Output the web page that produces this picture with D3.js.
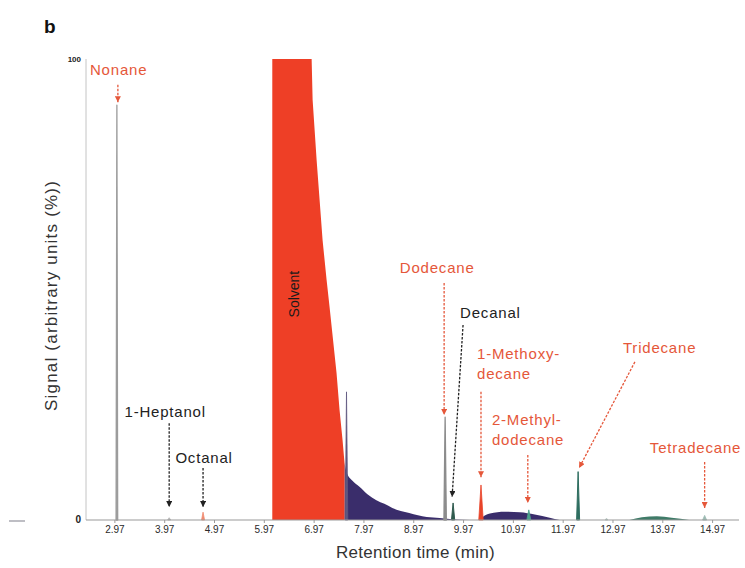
<!DOCTYPE html>
<html>
<head>
<meta charset="utf-8">
<style>
  body { margin: 0; background: #fff; }
  text { font-family: "Liberation Sans", Arial, sans-serif; }
</style>
</head>
<body>
<script src="https://cdnjs.cloudflare.com/ajax/libs/d3/7.8.5/d3.min.js"></script>
<script>

  // ---- data ----
  const xTicks = [2.97, 3.97, 4.97, 5.97, 6.97, 7.97, 8.97, 9.97, 10.97, 11.97, 12.97, 13.97, 14.97]
  const yTicks = [0, 100]

  const compounds = ['Nonane', '1-Heptanol', 'Octanal', 'Dodecane', 'Decanal',
                     '1-Methoxydecane', '2-Methyldodecane', 'Tridecane', 'Tetradecane']
  const peakTimes   = [3.01, 4.06, 4.74, 9.60, 9.76, 10.32, 11.28, 12.27, 14.81]
  const peakSignals = [90, 0.5, 1.7, 22.3, 3.7, 7.6, 2.2, 10.5, 1.0]

  // unnamed peaks
  const minorTimes   = [7.62, 12.84]
  const minorSignals = [27.8, 0.4]

  // solvent front (truncated at 100 %)
  const solventTimes   = [6.13, 6.13, 6.92, 6.94, 7.02, 7.08, 7.14, 7.22, 7.28, 7.36, 7.42, 7.48, 7.54, 7.58, 7.58]
  const solventSignals = [0, 100, 100, 91.1, 78.1, 69.4, 60.7, 52.1, 46.2, 38.0, 31.9, 23.9, 17.4, 12.4, 0]

  // solvent tail
  const tailTimes   = [7.58, 7.62, 7.74, 7.88, 8.04, 8.22, 8.38, 8.54, 8.88, 9.23, 9.49, 9.79, 10.09]
  const tailSignals = [12.4, 10.4, 8.5, 7.2, 5.6, 4.3, 3.5, 2.6, 1.5, 0.65, 0.43, 0.1, 0]

  // broad humps
  const humpATimes   = [10.30, 10.35, 10.50, 10.80, 11.10, 11.40, 11.70, 11.90]
  const humpASignals = [0, 0.6, 1.4, 1.8, 1.7, 1.2, 0.5, 0]
  const humpBTimes   = [13.30, 13.55, 13.85, 14.15, 14.50]
  const humpBSignals = [0, 0.6, 0.8, 0.5, 0]

  // ---- styles ----
  const colors = {red: '#ee3f26', purple: '#3a2d6b', label: '#e5573a', ink: '#222',
                  axis: '#9a9a9a', tick: '#2a2a2a'}

  const peakStyle = {
    'Nonane':           {fill: '#9c9c9c', hw: 0.8, sw: 1.3},
    '1-Heptanol':       {fill: '#b5b5b5', hw: 1.5, sw: 0.8},
    'Octanal':          {fill: '#f08a70', hw: 1.5, sw: 0.8},
    'Dodecane':         {fill: '#8c8c8c', hw: 1.2, sw: 1.3},
    'Decanal':          {fill: '#2f5a4e', hw: 1.6, sw: 1},
    '1-Methoxydecane':  {fill: '#e8442a', hw: 2.2, sw: 0.8},
    '2-Methyldodecane': {fill: '#4aa08a', hw: 2.0, sw: 0.8},
    'Tridecane':        {fill: '#2e6e60', hw: 1.5, sw: 1},
    'Tetradecane':      {fill: '#9cbab2', hw: 2.0, sw: 0.8}
  }

  // label placement in data units: [time, signal] of text anchor, arrow start, arrow end
  const notes = [
    {name: 'Nonane',           lines: ['Nonane'],             color: colors.label, at: [2.47, 96.5], anchor: 'start',  from: [3.03, 94.4], to: [3.03, 90.6]},
    {name: '1-Heptanol',       lines: ['1-Heptanol'],         color: colors.ink,   at: [3.98, 22.3], anchor: 'middle', from: [4.06, 21.0], to: [4.06, 2.8]},
    {name: 'Octanal',          lines: ['Octanal'],            color: colors.ink,   at: [4.76, 12.4], anchor: 'middle', from: [4.74, 11.3], to: [4.74, 2.8]},
    {name: 'Dodecane',         lines: ['Dodecane'],           color: colors.label, at: [8.69, 53.6], anchor: 'start',  from: [9.58, 51.4], to: [9.58, 22.8]},
    {name: 'Decanal',          lines: ['Decanal'],            color: colors.ink,   at: [9.90, 43.8], anchor: 'start',  from: [9.96, 42.3], to: [9.74, 5.0]},
    {name: '1-Methoxydecane',  lines: ['1-Methoxy-', 'decane'], color: colors.label, at: [10.24, 34.9], anchor: 'start', from: [10.32, 27.8], to: [10.32, 9.3]},
    {name: '2-Methyldodecane', lines: ['2-Methyl-', 'dodecane'], color: colors.label, at: [10.54, 20.6], anchor: 'start', from: [11.26, 14.1], to: [11.26, 3.7]},
    {name: 'Tridecane',        lines: ['Tridecane'],          color: colors.label, at: [13.17, 36.2], anchor: 'start',  from: [13.41, 34.3], to: [12.29, 11.3]},
    {name: 'Tetradecane',      lines: ['Tetradecane'],        color: colors.label, at: [13.71, 14.5], anchor: 'start',  from: [14.81, 12.6], to: [14.81, 2.6]}
  ]

  // ---- layout ----
  const width = 745, height = 568
  const plot = {left: 86, right: 739, top: 59, bottom: 520}

  const xScale = d3.scaleLinear()
    .domain([2.39, 15.50])
    .range([plot.left, plot.right])

  const yScale = d3.scaleLinear()
    .domain([0, 100])
    .range([plot.bottom, plot.top])

  const svg = d3.select('body')
    .append('svg')
      .attr('width', width)
      .attr('height', height)

  const defs = svg.append('defs')
  ;[['red', colors.label], ['ink', colors.ink]].forEach(([id, c]) => {
    defs.append('marker')
      .attr('id', 'arrow-' + id)
      .attr('viewBox', '0 0 10 10')
      .attr('refX', 10).attr('refY', 5)
      .attr('markerUnits', 'userSpaceOnUse')
      .attr('markerWidth', 6).attr('markerHeight', 6)
      .attr('orient', 'auto')
      .append('path')
        .attr('d', 'M0,0 L10,5 L0,10 z')
        .attr('fill', c)
  })

  // panel letter
  svg.append('text')
    .attr('x', 44).attr('y', 33)
    .style('font-size', '19px')
    .style('font-weight', 'bold')
    .attr('fill', '#111')
    .text('b')

  // stray tick on the far left of the original
  svg.append('line')
    .attr('x1', 9).attr('x2', 25).attr('y1', 521).attr('y2', 521)
    .attr('stroke', '#a9a9b0').attr('stroke-width', 1.5)

  // ---- areas ----
  const area = d3.area()
    .x(d => xScale(d[0]))
    .y0(yScale(0))
    .y1(d => yScale(d[1]))

  const smooth = d3.area()
    .x(d => xScale(d[0]))
    .y0(yScale(0))
    .y1(d => yScale(d[1]))
    .curve(d3.curveMonotoneX)

  svg.append('path')
    .datum(d3.zip(tailTimes, tailSignals))
    .attr('d', smooth)
    .attr('fill', colors.purple)

  svg.append('path')
    .datum(d3.zip(solventTimes, solventSignals))
    .attr('d', area)
    .attr('fill', colors.red)

  svg.append('path')
    .datum(d3.zip(humpATimes, humpASignals))
    .attr('d', smooth)
    .attr('fill', colors.purple)

  svg.append('path')
    .datum(d3.zip(humpBTimes, humpBSignals))
    .attr('d', smooth)
    .attr('fill', '#3f7b68')

  // peaks drawn as narrow triangles
  function peakPath(t, s, hw) {
    const x = xScale(t)
    return `M${x - hw},${yScale(0)} L${x},${yScale(s)} L${x + hw},${yScale(0)} Z`
  }

  svg.selectAll('.minor')
    .data(d3.zip(minorTimes, minorSignals))
    .enter()
    .append('path')
      .attr('class', 'minor')
      .attr('d', d => peakPath(d[0], d[1], 1.3))
      .attr('fill', (d, i) => i == 0 ? '#5f5880' : '#b9c9c4')
      .attr('stroke', (d, i) => i == 0 ? '#5f5880' : '#b9c9c4')
      .attr('stroke-width', 0.8)

  svg.selectAll('.peak')
    .data(compounds)
    .enter()
    .append('path')
      .attr('class', 'peak')
      .attr('d', (d, i) => peakPath(peakTimes[i], peakSignals[i], peakStyle[d].hw))
      .attr('fill', d => peakStyle[d].fill)
      .attr('stroke', d => peakStyle[d].fill)
      .attr('stroke-width', d => peakStyle[d].sw)
      .attr('stroke-linejoin', 'round')

  svg.append('text')
    .attr('transform', `translate(${xScale(6.58) + 4}, ${yScale(49)}) rotate(-90)`)
    .style('text-anchor', 'middle')
    .style('font-size', '14px')
    .attr('fill', '#1a1a1a')
    .text('Solvent')

  // ---- axes ----
  svg.append('line')
    .attr('x1', plot.left).attr('x2', plot.left)
    .attr('y1', yScale(100)).attr('y2', yScale(0))
    .attr('stroke', '#c4c4c4').attr('stroke-width', 1)

  svg.append('line')
    .attr('x1', plot.left).attr('x2', plot.right)
    .attr('y1', yScale(0)).attr('y2', yScale(0))
    .attr('stroke', colors.axis).attr('stroke-width', 1.2)

  svg.selectAll('.ylab')
    .data(yTicks)
    .enter()
    .append('text')
      .attr('class', 'ylab')
      .attr('x', plot.left - 5)
      .attr('y', d => yScale(d) + 3)
      .style('text-anchor', 'end')
      .style('font-size', d => d == 0 ? '10px' : '8px')
      .style('font-weight', 'bold')
      .attr('fill', '#222')
      .text(d => d)

  svg.selectAll('.xtick')
    .data(xTicks)
    .enter()
    .append('line')
      .attr('class', 'xtick')
      .attr('x1', d => xScale(d)).attr('x2', d => xScale(d))
      .attr('y1', yScale(0)).attr('y2', yScale(0) + 3)
      .attr('stroke', colors.axis)

  svg.selectAll('.xlab')
    .data(xTicks)
    .enter()
    .append('text')
      .attr('class', 'xlab')
      .attr('x', d => xScale(d))
      .attr('y', 533)
      .style('text-anchor', 'middle')
      .style('font-size', '10px')
      .attr('fill', colors.tick)
      .text(d => d.toFixed(2))

  svg.append('text')
    .attr('x', (plot.left + plot.right) / 2 + 3)
    .attr('y', 558)
    .style('text-anchor', 'middle')
    .style('font-size', '17px')
    .style('letter-spacing', '0.3px')
    .attr('fill', '#333')
    .text('Retention time (min)')

  svg.append('text')
    .attr('transform', `translate(57, ${(178 + 413) / 2}) rotate(-90)`)
    .style('text-anchor', 'middle')
    .style('font-size', '17px')
    .style('letter-spacing', '1.2px')
    .attr('fill', '#333')
    .text('Signal (arbitrary units (%))')

  // ---- annotations ----
  const gNotes = svg.append('g').attr('class', 'notes')

  notes.forEach(n => {
    gNotes.append('line')
      .attr('x1', xScale(n.from[0])).attr('y1', yScale(n.from[1]))
      .attr('x2', xScale(n.to[0])).attr('y2', yScale(n.to[1]))
      .attr('stroke', n.color)
      .attr('stroke-width', 1.3)
      .attr('stroke-dasharray', '2.5,1.5')
      .attr('marker-end', n.color == colors.ink ? 'url(#arrow-ink)' : 'url(#arrow-red)')

    const t = gNotes.append('text')
      .attr('x', xScale(n.at[0]))
      .attr('y', yScale(n.at[1]))
      .style('text-anchor', n.anchor)
      .style('font-size', '15px')
      .style('letter-spacing', '0.8px')
      .attr('fill', n.color)
    n.lines.forEach((l, i) => {
      t.append('tspan')
        .attr('x', xScale(n.at[0]))
        .attr('dy', i == 0 ? 0 : 19.5)
        .text(l)
    })
  })

</script>
</body>
</html>
